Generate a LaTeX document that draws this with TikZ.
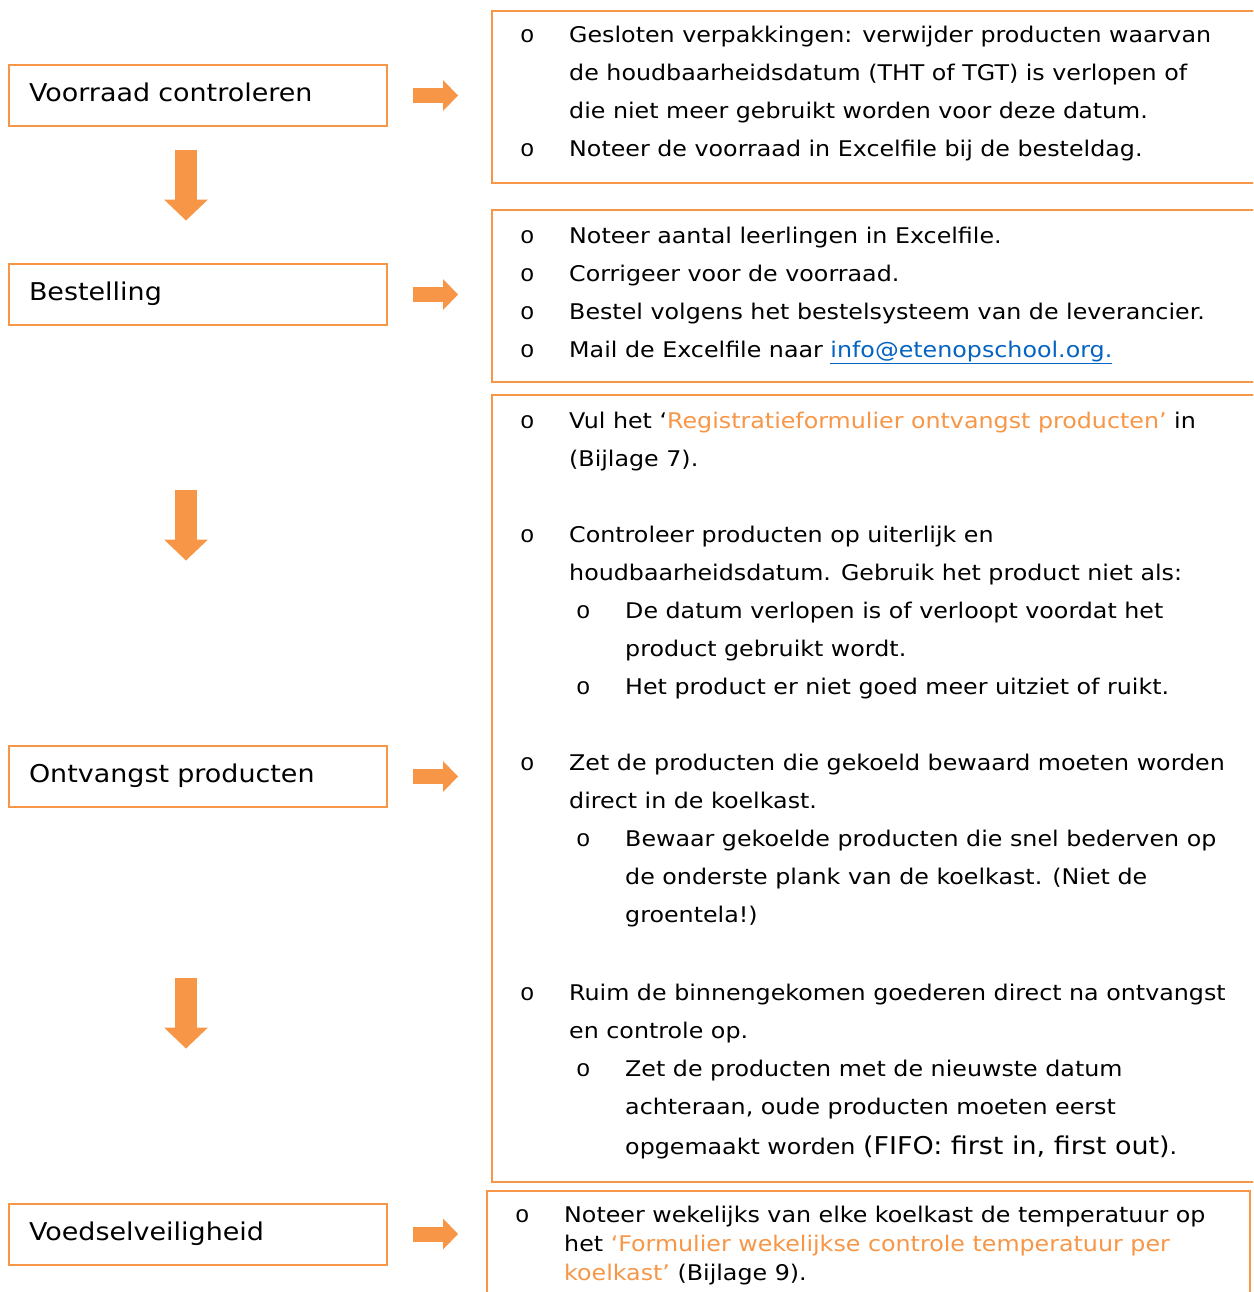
\documentclass[tikz,border=0pt]{standalone}
\usepackage{fontspec}
\setmainfont{DejaVu Sans}[FakeStretch=1.1]
\newfontfamily\bulletfont{Liberation Mono}
\usepackage{tikz}
\usetikzlibrary{positioning}
\usetikzlibrary{arrows.meta}

\definecolor{oranje}{HTML}{F79646}
\definecolor{linkblauw}{HTML}{0563C1}
\newcommand{\oranje}[1]{\textcolor{oranje}{#1}}
\newcommand{\linkje}[1]{\textcolor{linkblauw}{\underline{#1}}}
\newcommand{\bol}{\makebox[49pt][l]{\bulletfont\fontsize{24}{24}\selectfont o}}
\newcommand{\groot}{\fontsize{24.5}{29}\selectfont}

\tikzset{
  stage/.style={draw=oranje, line width=2pt, minimum width=378pt, minimum height=61pt,
    text width=338pt, inner xsep=20pt, align=left, font=\groot,
    text height=18.4pt, text depth=6.1pt},
  panel/.style={draw=oranje, line width=2pt, anchor=north west, inner sep=0pt},
  regel/.style={anchor=base west, inner sep=0pt, font=\fontsize{21.6}{26}\selectfont},
  pijlomlaag/.style={oranje, line width=22pt, -{Triangle[length=21pt 0 0, width=44pt 0 0, line width=0pt 0 0]}},
  pijlrechts/.style={oranje, line width=15pt, -{Triangle[length=15pt 0 0, width=31pt 0 0, line width=0pt 0 0]}},
}

\begin{document}
\begin{tikzpicture}[x=1pt, y=-1pt]
  % the reference is cut off on the right and at the bottom
  \clip (0,0) rectangle (1253,1292);

  % the steps on the left, each with an arrow to its panel
  \foreach \i/\y/\t in {1/95.5/Voorraad controleren, 2/294.5/Bestelling,
                        3/776.5/Ontvangst producten, 4/1234/Voedselveiligheid}
    {\node[stage] (s\i) at (198,\y) {\t};
     \draw[pijlrechts] ([xshift=25pt]s\i.east) -- ([xshift=70pt]s\i.east);}

  % arrows going down
  \foreach \i/\y in {1/150, 2/490, 3/978}
    {\coordinate (p\i) at (186,\y);
     \coordinate (q\i) at (186,\y+70.5);
     \draw[pijlomlaag] (p\i) -- (q\i);}

  % panels
  \node[panel, minimum width=790pt, minimum height=172pt] (r1) at (491,10) {};
  \node[panel, minimum width=790pt, minimum height=172pt] (r2) at (491,209) {};
  \node[panel, minimum width=790pt, minimum height=787pt] (r3) at (491,394) {};
  \node[panel, minimum width=763pt, minimum height=140pt] (r4) at (486,1190) {};

  % panel 1
  \node[regel] (a1) at (520,43) {\bol Gesloten verpakkingen: verwijder producten waarvan};
  \node[regel] (a2) at (569,81) {de houdbaarheidsdatum (THT of TGT) is verlopen of};
  \node[regel] (a3) at (569,119) {die niet meer gebruikt worden voor deze datum.};
  \node[regel] (a4) at (520,157) {\bol Noteer de voorraad in Excelfile bij de besteldag.};

  % panel 2
  \node[regel] (b1) at (520,243) {\bol Noteer aantal leerlingen in Excelfile.};
  \node[regel] (b2) at (520,281) {\bol Corrigeer voor de voorraad.};
  \node[regel] (b3) at (520,319) {\bol Bestel volgens het bestelsysteem van de leverancier.};
  \node[regel] (b4) at (520,357) {\bol Mail de Excelfile naar \linkje{info@etenopschool.org.}};

  % panel 3
  \node[regel] (c1) at (520,428) {\bol Vul het ‘\oranje{Registratieformulier ontvangst producten’} in};
  \node[regel] (c2) at (569,466) {(Bijlage 7).};
  \node[regel] (c3) at (520,542) {\bol Controleer producten op uiterlijk en};
  \node[regel] (c4) at (569,580) {houdbaarheidsdatum. Gebruik het product niet als:};
  \node[regel] (c5) at (576,618) {\bol De datum verlopen is of verloopt voordat het};
  \node[regel] (c6) at (625,656) {product gebruikt wordt.};
  \node[regel] (c7) at (576,694) {\bol Het product er niet goed meer uitziet of ruikt.};
  \node[regel] (c8) at (520,770) {\bol Zet de producten die gekoeld bewaard moeten worden};
  \node[regel] (c9) at (569,808) {direct in de koelkast.};
  \node[regel] (c10) at (576,846) {\bol Bewaar gekoelde producten die snel bederven op};
  \node[regel] (c11) at (625,884) {de onderste plank van de koelkast. (Niet de};
  \node[regel] (c12) at (625,922) {groentela!)};
  \node[regel] (c13) at (520,1000) {\bol Ruim de binnengekomen goederen direct na ontvangst};
  \node[regel] (c14) at (569,1038) {en controle op.};
  \node[regel] (c15) at (576,1076) {\bol Zet de producten met de nieuwste datum};
  \node[regel] (c16) at (625,1114) {achteraan, oude producten moeten eerst};
  \node[regel] (c17) at (625,1154) {opgemaakt worden {\groot(FIFO: first in, first out)}.};

  % panel 4
  \node[regel] (d1) at (515,1222) {\bol Noteer wekelijks van elke koelkast de temperatuur op};
  \node[regel] (d2) at (564,1251) {het \oranje{‘Formulier wekelijkse controle temperatuur per}};
  \node[regel] (d3) at (564,1280) {\oranje{koelkast’} (Bijlage 9).};
\end{tikzpicture}
\end{document}
